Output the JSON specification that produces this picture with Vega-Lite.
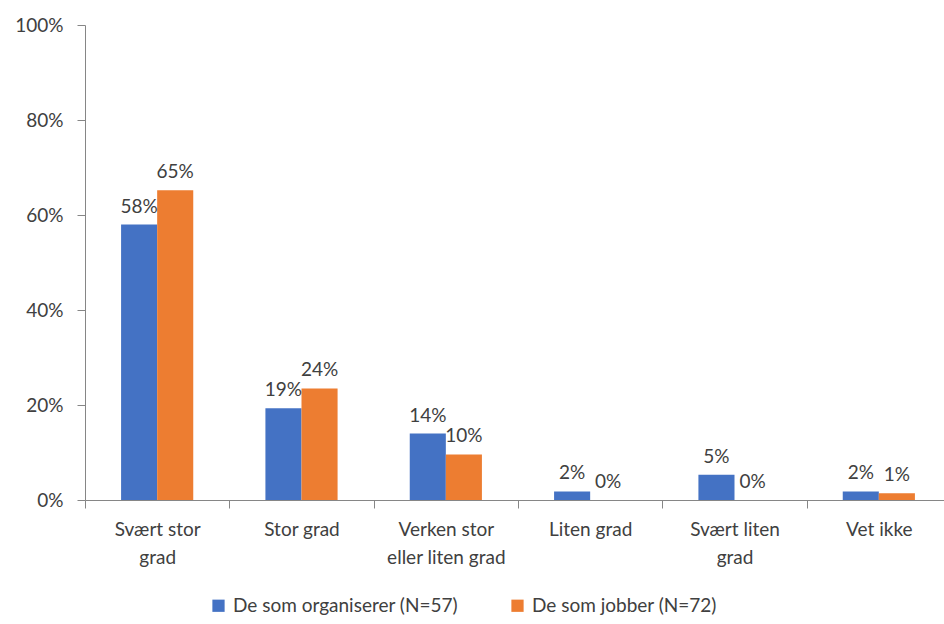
{
  "$schema": "https://vega.github.io/schema/vega-lite/v6.json",
  "width": 866,
  "height": 475,
  "autosize": {"type": "none"},
  "padding": {"left": 85, "top": 25, "right": 0, "bottom": 124},
  "background": "white",
  "config": {
    "view": {"stroke": null},
    "font": "Lato",
    "axis": {"labelFont": "Lato", "labelColor": "#404040", "labelFontSize": 19, "domainColor": "#868686", "tickColor": "#868686", "grid": false, "title": null},
    "legend": {"labelFont": "Lato", "labelFontSize": 19, "labelColor": "#404040"}
  },
  "data": {
    "values": [
      {"kategori": "Svært stor grad", "gruppe": "De som organiserer (N=57)", "andel": 0.58, "etikett": "58%"},
      {"kategori": "Svært stor grad", "gruppe": "De som jobber (N=72)", "andel": 0.652, "etikett": "65%"},
      {"kategori": "Stor grad", "gruppe": "De som organiserer (N=57)", "andel": 0.193, "etikett": "19%"},
      {"kategori": "Stor grad", "gruppe": "De som jobber (N=72)", "andel": 0.235, "etikett": "24%"},
      {"kategori": "Verken stor eller liten grad", "gruppe": "De som organiserer (N=57)", "andel": 0.14, "etikett": "14%"},
      {"kategori": "Verken stor eller liten grad", "gruppe": "De som jobber (N=72)", "andel": 0.096, "etikett": "10%"},
      {"kategori": "Liten grad", "gruppe": "De som organiserer (N=57)", "andel": 0.018, "etikett": "2%"},
      {"kategori": "Liten grad", "gruppe": "De som jobber (N=72)", "andel": 0.0, "etikett": "0%"},
      {"kategori": "Svært liten grad", "gruppe": "De som organiserer (N=57)", "andel": 0.053, "etikett": "5%"},
      {"kategori": "Svært liten grad", "gruppe": "De som jobber (N=72)", "andel": 0.0, "etikett": "0%"},
      {"kategori": "Vet ikke", "gruppe": "De som organiserer (N=57)", "andel": 0.018, "etikett": "2%"},
      {"kategori": "Vet ikke", "gruppe": "De som jobber (N=72)", "andel": 0.014, "etikett": "1%"}
    ]
  },
  "encoding": {
    "x": {
      "field": "kategori", "type": "nominal", "sort": null,
      "scale": {"paddingInner": 0, "paddingOuter": 0},
      "axis": {
        "labelAngle": 0, "tickBand": "extent", "tickSize": 8, "labelPadding": 12,
        "labelLineHeight": 28, "labelBaseline": "top",
        "labelExpr": "datum.value == 'Svært stor grad' ? ['Svært stor', 'grad'] : datum.value == 'Verken stor eller liten grad' ? ['Verken stor', 'eller liten grad'] : datum.value == 'Svært liten grad' ? ['Svært liten', 'grad'] : datum.value"
      }
    },
    "xOffset": {"field": "gruppe", "type": "nominal", "sort": null, "scale": {"paddingInner": 0, "paddingOuter": 1}},
    "y": {
      "field": "andel", "type": "quantitative",
      "scale": {"domain": [0, 1], "nice": false},
      "axis": {"format": ".0%", "values": [0, 0.2, 0.4, 0.6, 0.8, 1], "tickSize": 8, "labelPadding": 14}
    }
  },
  "layer": [
    {
      "mark": {"type": "bar"},
      "encoding": {
        "color": {
          "field": "gruppe", "type": "nominal", "sort": null,
          "scale": {"range": ["#4472C4", "#ED7D31"]},
          "legend": {"title": null, "orient": "none", "direction": "horizontal", "legendX": 124, "legendY": 571, "symbolType": "square", "symbolSize": 150, "symbolStrokeWidth": 0, "columnPadding": 50, "labelOffset": 5, "labelLimit": 0}
        }
      }
    },
    {
      "mark": {"type": "text", "baseline": "bottom", "dy": -8, "fontSize": 19, "color": "#404040", "font": "Lato"},
      "encoding": {"text": {"field": "etikett"}}
    }
  ]
}
